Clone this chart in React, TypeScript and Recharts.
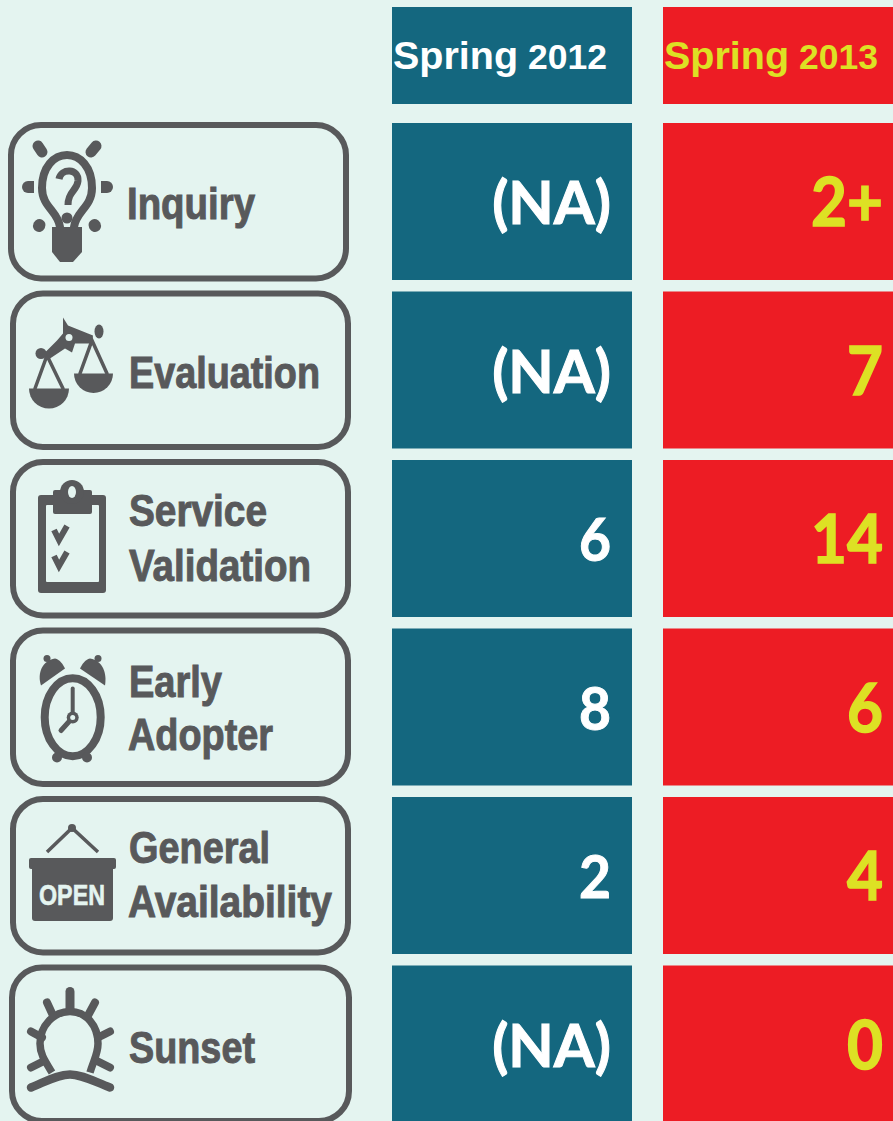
import React from "react";
import { BarChart, Bar, XAxis, YAxis, LabelList } from "recharts";

// ---- values ----
const stages = ["Inquiry", "Evaluation", "Service Validation", "Early Adopter", "General Availability", "Sunset"];
const spring2012 = ["(NA)", "(NA)", "6", "8", "2", "(NA)"];
const spring2013 = ["2+", "7", "14", "6", "4", "0"];
const headerYears = ["2012", "2013"];

// ---- styling / layout ----
const BG = "#e4f4f0";
const BLUE = "#14677f";
const RED = "#ed1c24";
const YELLOW = "#dde124";
const GRAY = "#58595b";
const WIDTH = 893;
const LEAD = 392;
const COL_A = 240;
const GAP = 31;
const COL_B = 230;

const spans = { lead: LEAD, colA: COL_A, gap: GAP, colB: COL_B };
const rows = stages.map((stage, i) => ({ stage, a: spring2012[i], b: spring2013[i], ...spans }));
const headerRows = [{ stage: "Season", a: headerYears[0], b: headerYears[1], ...spans }];

const labelLines: Record<string, { text: string; dy: number; x: number; w: number }[]> = {
  Inquiry: [{ text: "Inquiry", dy: 18, x: 127, w: 128 }],
  Evaluation: [{ text: "Evaluation", dy: 18, x: 129, w: 191 }],
  "Service Validation": [
    { text: "Service", dy: -12, x: 129, w: 138 },
    { text: "Validation", dy: 43, x: 129, w: 182 },
  ],
  "Early Adopter": [
    { text: "Early", dy: -10, x: 129, w: 93 },
    { text: "Adopter", dy: 43, x: 128, w: 145 },
  ],
  "General Availability": [
    { text: "General", dy: -12, x: 129, w: 141 },
    { text: "Availability", dy: 42, x: 128, w: 204 },
  ],
  Sunset: [{ text: "Sunset", dy: 19, x: 129, w: 126 }],
};

const boxEdges = [[8, 349], [10, 351], [10, 351], [10, 351], [10, 351], [9, 352]];

const line = { stroke: GRAY, fill: "none", strokeLinecap: "round" as const };

function Icon({ index }: { index: number }) {
  switch (index) {
    case 0:
      return (
        <g>
          <path d="M60,104 C58,88 42,84 42,65 C42,44 54,32 67,32 C80,32 92,44 92,65 C92,84 76,88 74,104" {...line} strokeWidth={8} />
          <path d="M52,104 H82 V129 L73,139 H60 L52,129 Z" fill={GRAY} />
          <path d="M38,23 L42,29" {...line} strokeWidth={11} />
          <path d="M96,23 L91,29" {...line} strokeWidth={11} />
          <path d="M34,58 H28 A6,6 0 0 0 28,70 H34 Z" fill={GRAY} />
          <path d="M101,58 H107 A6,6 0 0 1 107,70 H101 Z" fill={GRAY} />
          <path d="M39,103 L39.5,102" {...line} strokeWidth={12} />
          <path d="M95,103 L94.5,102" {...line} strokeWidth={12} />
          <path d="M59,56 C61,45 79,45 78,58 C77,68 68,68 68,82" {...line} strokeWidth={7} strokeLinecap="butt" />
          <circle cx={67} cy={95} r={5.5} fill={GRAY} />
        </g>
      );
    case 1:
      return (
        <g>
          <path d="M29,97 A20,20 0 0 0 69,97 Z" fill={GRAY} />
          <path d="M74,82 A19.5,19.5 0 0 0 113,82 Z" fill={GRAY} />
          <path d="M35,97 L47,64 L63,97" {...line} strokeWidth={3.5} />
          <path d="M80,82 L92,49 L107,82" {...line} strokeWidth={3.5} />
          <circle cx={41} cy={62} r={5.5} fill={GRAY} />
          <ellipse cx={99} cy={40} rx={4.5} ry={7} fill={GRAY} />
          <path d="M63,26 L68,34 L93,44 L92,52 L75,52 L72,61 L65,57 L50,67 L45,61 L57,49 L63,42 Z" fill={GRAY} />
          <circle cx={69} cy={46} r={3.5} fill={BG} />
        </g>
      );
    case 2:
      return (
        <g>
          <rect x={38} y={35} width={68} height={98} rx={3} fill={GRAY} />
          <rect x={46} y={45} width={53} height={77} rx={1} fill={BG} />
          <rect x={53} y={30} width={39} height={24} rx={2} fill={GRAY} />
          <circle cx={72} cy={32} r={12} fill={GRAY} />
          <ellipse cx={72} cy={32} rx={4} ry={6} fill={BG} />
          <path d="M54,70 L59,80 L67,66" {...line} strokeWidth={6} strokeLinecap="butt" />
          <path d="M54,96 L59,106 L67,92" {...line} strokeWidth={6} strokeLinecap="butt" />
        </g>
      );
    case 3:
      return (
        <g>
          <ellipse cx={72.7} cy={88.7} rx={28} ry={39} fill="none" stroke={GRAY} strokeWidth={8} />
          <path d="M41,57 C37,45 42,32 55,30 C60,31 63,36 65,40 Z" fill={GRAY} />
          <path d="M105,57 C107,45 103,32 90,30 C85,31 82,36 80,40 Z" fill={GRAY} />
          <circle cx={47} cy={30} r={3.5} fill={GRAY} />
          <circle cx={98} cy={30} r={3.5} fill={GRAY} />
          <circle cx={57} cy={129} r={5} fill={GRAY} />
          <circle cx={87} cy={129} r={5} fill={GRAY} />
          <path d="M72.7,60 V89" {...line} strokeWidth={4} />
          <path d="M72.7,89 L61,102" {...line} strokeWidth={5} />
          <circle cx={72.7} cy={89} r={6} fill={GRAY} />
          <circle cx={72.7} cy={89} r={2.5} fill={BG} />
        </g>
      );
    case 4:
      return (
        <g>
          <path d="M47,55 L72,31 L98,55" fill="none" stroke={GRAY} strokeWidth={3.5} />
          <circle cx={72} cy={31} r={4} fill={GRAY} />
          <rect x={29} y={61} width={87} height={11} rx={2} fill={GRAY} />
          <rect x={32} y={68} width={81} height={56} rx={3} fill={GRAY} />
          <text x={39} y={108} fontFamily="'Liberation Sans', sans-serif" fontWeight={700} fontSize={30} fill={BG} stroke={BG} strokeWidth={0.6} textLength={66} lengthAdjust="spacingAndGlyphs">
            OPEN
          </text>
        </g>
      );
    default:
      return (
        <g>
          <path d="M52,107 C44,94 40,88 40,78 C40,60 54,46 70,46 C86,46 98,60 98,78 C98,88 94,94 90,107" {...line} strokeWidth={7.5} strokeLinecap="butt" />
          <path d="M31,122 C46,116 58,109 70,109 C82,109 94,116 110,122" {...line} strokeWidth={8.5} />
          <path d="M70,26 V44" {...line} strokeWidth={9} />
          <path d="M47,37 L53,50" {...line} strokeWidth={8} />
          <path d="M95,37 L88,50" {...line} strokeWidth={8} />
          <path d="M31,66 L42,72" {...line} strokeWidth={8} />
          <path d="M110,66 L98,72" {...line} strokeWidth={8} />
          <path d="M31,102 L43,96" {...line} strokeWidth={8} />
          <path d="M110,102 L98,96" {...line} strokeWidth={8} />
        </g>
      );
  }
}

function StageBox(props: any) {
  const { y, height, index } = props;
  const [l, r] = boxEdges[index];
  const sw = 6;
  return (
    <g>
      <rect x={l + sw / 2} y={y + sw / 2 - 1} width={r - l - sw} height={height + 2.5 - sw} rx={30} ry={30} fill="none" stroke={GRAY} strokeWidth={sw} />
      <g transform={`translate(0,${y})`}>
        <Icon index={index} />
      </g>
    </g>
  );
}

function StageTick(props: any) {
  const { y, payload } = props;
  const parts = labelLines[payload.value] || [];
  return (
    <g>
      {parts.map((p) => (
        <text key={p.text} x={p.x} y={y + p.dy} fontFamily="'Liberation Sans', sans-serif" fontWeight={700} fontSize={44} fill={GRAY} stroke={GRAY} strokeWidth={1} textLength={p.w} lengthAdjust="spacingAndGlyphs">
          {p.text}
        </text>
      ))}
    </g>
  );
}

const cellLabel = (color: string) => (props: any) => {
  const { x, y, width, height, value } = props;
  const isYellow = color === YELLOW;
  const isWord = String(value).length > 2;
  const size = isYellow ? 66 : isWord ? 59 : 60;
  const right = x + width - (isYellow ? 10 : 21);
  const squeeze = isYellow ? 0.94 : isWord ? 1 : 0.92;
  return (
    <text
      transform={`translate(${right},${y + height / 2 + (isYellow ? 24.5 : 22.5)}) scale(${squeeze},1)`}
      textAnchor="end"
      fontFamily="Lato, sans-serif"
      fontWeight={700}
      fontSize={size}
      fill={color}
      stroke={color}
      strokeWidth={isYellow ? 1.4 : 1}
    >
      {value}
    </text>
  );
};

const headerLabel = (color: string) => (props: any) => {
  const { x, y, value } = props;
  return (
    <text x={x + 1} y={y + 62} fontFamily="'Liberation Sans', sans-serif" fontWeight={700} fill={color}>
      <tspan fontSize={39.5}>Spring</tspan>
      <tspan fontSize={35.5} dx={10}>{value}</tspan>
    </text>
  );
};

export default function App() {
  return (
    <div style={{ position: "absolute", left: 0, top: 0, width: WIDTH, height: 1121, overflow: "hidden", background: BG }}>
      <div style={{ position: "absolute", left: 0, top: 7 }}>
        <BarChart width={WIDTH} height={97} data={headerRows} layout="vertical" margin={{ top: 0, right: 0, bottom: 0, left: 0 }} barCategoryGap={0}>
          <XAxis type="number" domain={[0, WIDTH]} hide />
          <YAxis type="category" dataKey="stage" hide />
          <Bar dataKey="lead" stackId="s" fill="transparent" isAnimationActive={false} />
          <Bar dataKey="colA" stackId="s" fill={BLUE} isAnimationActive={false}>
            <LabelList dataKey="a" content={headerLabel("#ffffff")} />
          </Bar>
          <Bar dataKey="gap" stackId="s" fill="transparent" isAnimationActive={false} />
          <Bar dataKey="colB" stackId="s" fill={RED} isAnimationActive={false}>
            <LabelList dataKey="b" content={headerLabel(YELLOW)} />
          </Bar>
        </BarChart>
      </div>
      <div style={{ position: "absolute", left: 0, top: 117 }}>
        <BarChart width={WIDTH} height={1011} data={rows} layout="vertical" margin={{ top: 0, right: 0, bottom: 0, left: -1 }} barCategoryGap={6}>
          <XAxis type="number" domain={[0, WIDTH]} hide />
          <YAxis type="category" dataKey="stage" width={1} axisLine={false} tickLine={false} interval={0} tick={<StageTick />} />
          <Bar dataKey="lead" stackId="s" fill="transparent" isAnimationActive={false} shape={<StageBox />} />
          <Bar dataKey="colA" stackId="s" fill={BLUE} isAnimationActive={false}>
            <LabelList dataKey="a" content={cellLabel("#ffffff")} />
          </Bar>
          <Bar dataKey="gap" stackId="s" fill="transparent" isAnimationActive={false} />
          <Bar dataKey="colB" stackId="s" fill={RED} isAnimationActive={false}>
            <LabelList dataKey="b" content={cellLabel(YELLOW)} />
          </Bar>
        </BarChart>
      </div>
    </div>
  );
}
